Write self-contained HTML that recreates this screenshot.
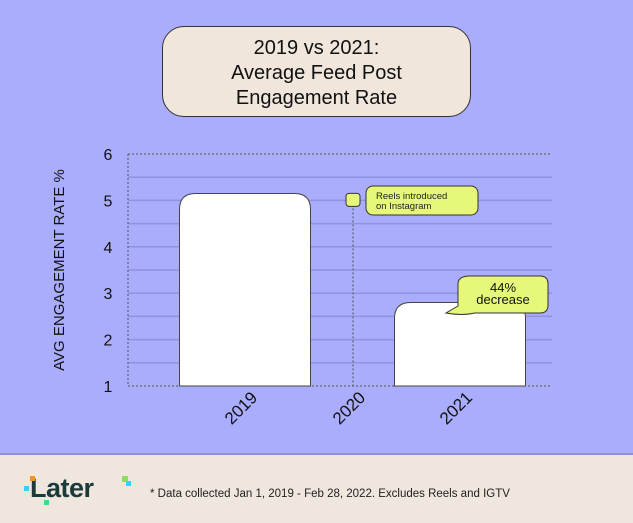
<!DOCTYPE html>
<html><head><meta charset="utf-8"><style>
body{margin:0;width:633px;height:521px;overflow:hidden;background:#a9adfb;font-family:"Liberation Sans",sans-serif;position:relative}
#title{position:absolute;left:162px;top:26px;width:309px;height:91px;background:#f0e6dc;border:1.5px solid #333;border-radius:22px;text-align:center;font-size:20px;line-height:25px;color:#111;box-sizing:border-box;padding-top:9px}
#footer{position:absolute;left:0;top:453px;width:633px;height:68px;background:#efe6dd;border-top:2px solid #8e91d8}
svg{position:absolute;left:0;top:0}
</style></head><body>
<div id="title">2019 vs 2021:<br>Average Feed Post<br>Engagement Rate</div>
<svg width="633" height="453" id="chart"></svg>
<div id="footer">
<div style="position:absolute;left:30px;top:18px;font-size:27px;font-weight:bold;color:#1c3a3a;letter-spacing:-0.5px">Later</div>
<div style="position:absolute;left:30px;top:21px;width:5px;height:5px;background:#f7931e"></div>
<div style="position:absolute;left:24px;top:31px;width:5px;height:5px;background:#3ad0f5"></div>
<div style="position:absolute;left:44px;top:45px;width:5px;height:5px;background:#35e08a"></div>
<div style="position:absolute;left:122px;top:21px;width:6px;height:6px;background:#8ae05a"></div>
<div style="position:absolute;left:126px;top:26px;width:5px;height:5px;background:#3ad0f5"></div>
<div style="position:absolute;left:150px;top:33px;font-size:11.5px;color:#222">* Data collected Jan 1, 2019 - Feb 28, 2022. Excludes Reels and IGTV</div>
</div>
<script>
const categories=["2019","2020","2021"];
const values=[5.15,null,2.8];
const yTicks=[1,2,3,4,5,6];
const NS="http://www.w3.org/2000/svg";
const svg=document.getElementById('chart');
const x0=128,x1=552,yTop=154,yBot=386,yMin=1,yMax=6;
const y=v=>yBot-(v-yMin)/(yMax-yMin)*(yBot-yTop);
const xc=i=>[245,353,460][i];
function mk(t,a){const e=document.createElementNS(NS,t);for(const k in a)e.setAttribute(k,a[k]);svg.appendChild(e);return e;}
for(let v=1.5;v<6;v+=0.5){
 const l=mk('line',{x1:x0,x2:x1,y1:y(v),y2:y(v),stroke:'#8f92df','stroke-width':1.5});
 
 
}
[[x0,yTop,x1,yTop],[x0,yBot,x1,yBot],[x0,yTop,x0,yBot]].forEach(c=>{
 const l=mk('line',{x1:c[0],y1:c[1],x2:c[2],y2:c[3],stroke:'#555','stroke-width':1,'stroke-dasharray':'2,2'});
 
 
});
yTicks.forEach(t=>{
 const e=mk('text',{x:108,y:y(t)+6,'font-size':16,fill:'#111','text-anchor':'middle'});
 e.textContent=t;
 
 
});
const yt=mk('text',{x:0,y:0,'font-size':15,fill:'#111','text-anchor':'middle',transform:'translate(64,270) rotate(-90)'});
yt.textContent='AVG ENGAGEMENT RATE %';


const bw=131,r=16;
values.forEach((v,i)=>{
 if(v==null)return;
 const L=xc(i)-bw/2,T=y(v),R=L+bw;
 const p=mk('path',{d:`M${L},${yBot}V${T+r}Q${L},${T} ${L+r},${T}H${R-r}Q${R},${T} ${R},${T+r}V${yBot}Z`,fill:'#fff',stroke:'#444','stroke-width':1});
 
 
});
categories.forEach((c,i)=>{
 const e=mk('text',{x:0,y:0,'font-size':17,fill:'#111','text-anchor':'middle',transform:`translate(${xc(i)},412) rotate(-45)`});
 e.textContent=c;
 
 
});
// 2020 marker
const ml=mk('line',{x1:xc(1),x2:xc(1),y1:y(5)+4,y2:yBot,stroke:'#555','stroke-dasharray':'2,2'});


const mr=mk('rect',{x:xc(1)-7,y:y(5)-7,width:14,height:13,rx:3,fill:'#e6f77a',stroke:'#333'});


const cb=mk('rect',{x:366,y:186,width:112,height:29,rx:7,fill:'#e6f77a',stroke:'#333'});


['Reels introduced','on Instagram'].forEach((s,k)=>{
 const t=mk('text',{x:376,y:199+k*10,'font-size':9.5,fill:'#222'});
 t.textContent=s;
 
 
});
const db=mk('path',{d:'M470,276H540Q548,276 548,284V305Q548,313 540,313H475Q462,316 446,313L458,306V284Q458,276 470,276Z',fill:'#e6f77a',stroke:'#333'});


['44%','decrease'].forEach((s,k)=>{
 const t=mk('text',{x:503,y:292+k*12,'font-size':13,fill:'#111','text-anchor':'middle'});
 t.textContent=s;
 
 
});
</script>
</body></html>
